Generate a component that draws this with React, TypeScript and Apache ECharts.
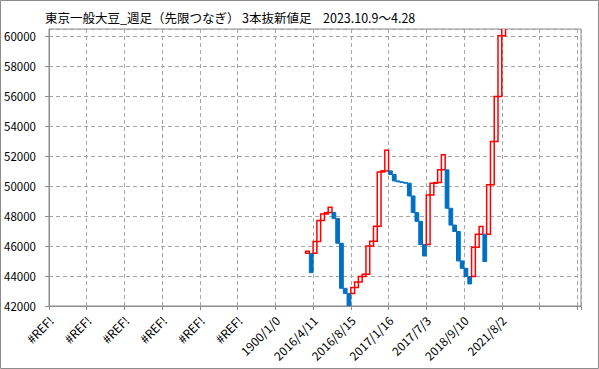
import React, { useEffect, useRef } from "react";
import * as echarts from "echarts";

// X-axis tick labels, one every `labelStep` categories
const tickLabels = [
  "#REF!", "#REF!", "#REF!", "#REF!", "#REF!", "#REF!",
  "1900/1/0", "2016/4/11", "2016/8/15", "2017/1/16", "2017/7/3", "2018/9/10", "2021/8/2",
];
const categoryCount = 141;
const labelStep = 10;

// Three-line-break blocks, starting at category index firstBlockIndex
const firstBlockIndex = 68;
const opens = [
  45510, 45510, 45510, 46290, 47690, 48130, 48220, 48220, 47820, 46180,
  43180, 42840, 42840, 43240, 43600, 43960, 44110, 46000, 46310, 47310,
  50930, 51000, 51000, 50760, 50330, 50270, 50220, 50180, 49330, 48220,
  47640, 46090, 46090, 49400, 50180, 50220, 51070, 51070, 48510, 47390,
  46960, 45000, 44510, 43960, 43960, 45910, 46780, 46780, 46780, 50070,
  52960, 55960, 60000,
];
const closes = [
  45640, 44220, 46290, 47690, 48130, 48220, 48580, 47820, 46180, 43180,
  42840, 41950, 43240, 43600, 43960, 44110, 46000, 46310, 47310, 50930,
  51000, 52380, 50760, 50330, 50270, 50220, 50180, 49330, 48220, 47640,
  46090, 45330, 49400, 50180, 50220, 51070, 52070, 48510, 47390, 46960,
  45000, 44510, 43960, 43470, 45910, 46780, 47290, 44960, 50070, 52960,
  55960, 60000, 60800,
];

const yMin = 42000;
const yMax = 60450;
const yInterval = 2000;

const titleMain = "東京一般大豆_週足（先限つなぎ）";
const titleType = "3本抜新値足";
const titlePeriod = "2023.10.9～4.28";

export default function App() {
  const ref = useRef<HTMLDivElement>(null);

  useEffect(() => {
    if (!ref.current) return;
    const chart = echarts.init(ref.current, undefined, { renderer: "svg" });
    const categories = Array.from({ length: categoryCount }, (_, i) => "c" + i);
    const blocks = opens.map((o, i) => [firstBlockIndex + i, o, closes[i]]);
    const font = "'Noto Sans CJK JP', 'Noto Sans', sans-serif";
    const gridColor = "#a6a6a6";
    const axisColor = "#8c8c8c";

    chart.setOption({
      animation: false,
      backgroundColor: "#ffffff",
      graphic: [
        {
          type: "rect",
          shape: { x: 0.5, y: 0.5, width: 598, height: 368 },
          style: { fill: "none", stroke: "#8c8c8c", lineWidth: 1 },
          silent: true,
        },
        {
          type: "text",
          x: 45,
          y: 17,
          style: { text: titleMain, font: "12.5px " + font, fill: "#000", textVerticalAlign: "middle" },
        },
        {
          type: "text",
          x: 242,
          y: 17,
          style: { text: titleType, font: "12.5px " + font, fill: "#000", textVerticalAlign: "middle" },
        },
        {
          type: "text",
          x: 323,
          y: 17,
          style: { text: titlePeriod, font: "12.5px " + font, fill: "#000", textVerticalAlign: "middle" },
        },
      ],
      grid: {
        left: 49,
        right: 18,
        top: 29,
        bottom: 63,
        show: true,
        borderColor: axisColor,
        borderWidth: 1,
        backgroundColor: "#fff",
      },
      xAxis: {
        type: "category",
        data: categories,
        boundaryGap: true,
        axisLine: { show: true, lineStyle: { color: axisColor, width: 1 } },
        axisTick: { show: true, interval: labelStep - 1, length: 4, lineStyle: { color: axisColor } },
        axisLabel: {
          interval: labelStep - 1,
          rotate: 45,
          margin: 12,
          fontSize: 12,
          fontFamily: font,
          color: "#000",
          formatter: (_v: string, index: number) =>
            index % labelStep === 0 ? tickLabels[index / labelStep] ?? "" : "",
        },
        splitLine: {
          show: true,
          interval: labelStep - 1,
          lineStyle: { color: gridColor, type: [4, 3], width: 1 },
        },
      },
      yAxis: {
        type: "value",
        min: yMin,
        max: yMax,
        interval: yInterval,
        axisLine: { show: true, lineStyle: { color: axisColor, width: 1 } },
        axisTick: { show: true, length: 4, lineStyle: { color: axisColor } },
        axisLabel: {
          margin: 13,
          fontSize: 11.5,
          fontFamily: font,
          color: "#000",
          showMaxLabel: false,
          formatter: (v: number) => (v % yInterval === 0 ? String(v) : ""),
        },
        splitLine: { show: true, lineStyle: { color: gridColor, type: [4, 3], width: 1 } },
      },
      series: [
        {
          type: "custom",
          clip: true,
          encode: { x: 0, y: [1, 2] },
          data: blocks,
          renderItem: (_params: any, api: any) => {
            const idx = api.value(0);
            const o = api.value(1);
            const c = api.value(2);
            const p1 = api.coord([idx, o]);
            const p2 = api.coord([idx, c]);
            const bw = api.size([1, 0])[0];
            const up = c > o;
            const y = Math.min(p1[1], p2[1]);
            const h = Math.abs(p1[1] - p2[1]);
            return {
              type: "rect",
              shape: { x: p1[0] - bw / 2, y, width: bw, height: h },
              style: up
                ? { fill: "#ffffff", stroke: "#ff0000", lineWidth: 1.5 }
                : { fill: "#0070c0", stroke: "#0070c0", lineWidth: 1 },
            };
          },
        },
      ],
    });
    return () => chart.dispose();
  }, []);

  return (
    <div
      ref={ref}
      style={{ position: "fixed", left: 0, top: 0, width: 599, height: 369 }}
    />
  );
}
